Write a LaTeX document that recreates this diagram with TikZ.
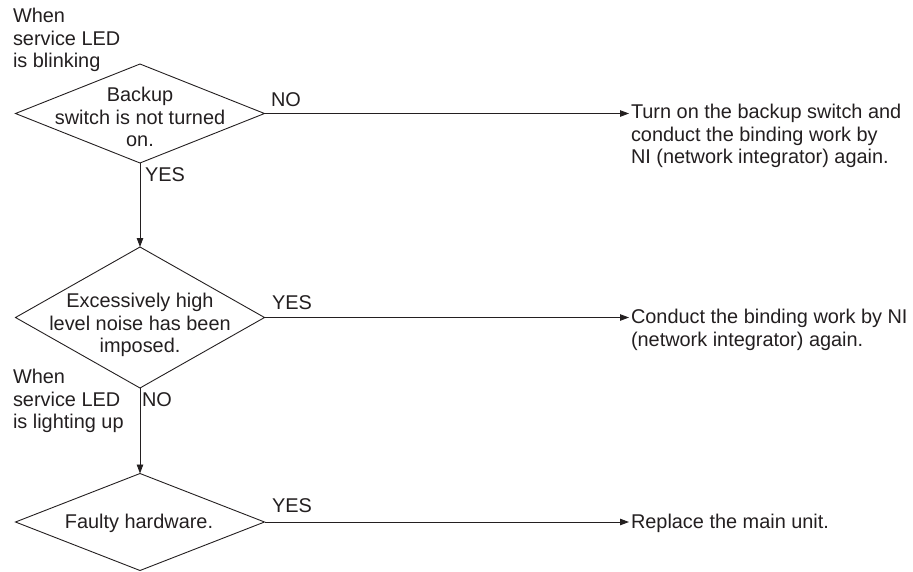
\documentclass[tikz,border=0pt]{standalone}
\usepackage{fontspec}
\setmainfont{Liberation Sans}
\usetikzlibrary{shapes.geometric,arrows.meta}
\definecolor{ink}{RGB}{35,31,32}
\begin{document}
\begin{tikzpicture}[x=1pt,y=-1pt,
  every node/.style={inner sep=0pt,outer sep=0pt,text=ink,font=\fontsize{19.9}{22.5}\selectfont},
  dia/.style={diamond,draw=ink,line width=0.9pt,minimum width=249pt},
  txt/.style={align=center},
  rtxt/.style={align=left,anchor=west},
  arr/.style={draw=ink,line width=0.9pt,-{Triangle[length=9pt,width=6.5pt]}},
  harr/.style={arr,shorten >=2pt}]
\useasboundingbox (0,0) rectangle (913,571);
% diamonds
\node[dia,minimum height=99pt] (d1) at (140,113.5) {};
\node[dia,minimum height=141pt] (d2) at (140,317.5) {};
\node[dia,minimum height=97pt] (d3) at (140,522) {};
% diamond texts
\node[txt] (t1) at (140,117) {Backup\\switch is not turned\\on.};
\node[txt] (t2) at (140,325) {Excessively high\\level noise has been\\imposed.};
\node[txt] (t3) at (139,523) {Faulty hardware.};
% side notes
\node[rtxt] (n1) at (13,40) {When\\service LED\\is blinking};
\node[rtxt] (n2) at (13,401) {When\\service LED\\is lighting up};
% result texts
\node[rtxt] (r1) at (631,136) {Turn on the backup switch and\\conduct the binding work by\\NI (network integrator) again.};
\node[rtxt] (r2) at (631,330) {Conduct the binding work by NI\\(network integrator) again.};
\node[rtxt] (r3) at (631,523) {Replace the main unit.};
% branch labels
\node (l1) at (286,100) {NO};
\node (l2) at (165,175) {YES};
\node (l3) at (292,303) {YES};
\node (l4) at (157,400) {NO};
\node (l5) at (292,506) {YES};
% connectors
\draw[arr] (d1.south) -- (d2.north);
\draw[arr] (d2.south) -- (d3.north);
\draw[harr] (d1.east) -- (d1.east -| r1.west);
\draw[harr] (d2.east) -- (d2.east -| r2.west);
\draw[harr] (d3.east) -- (d3.east -| r3.west);
\end{tikzpicture}
\end{document}
